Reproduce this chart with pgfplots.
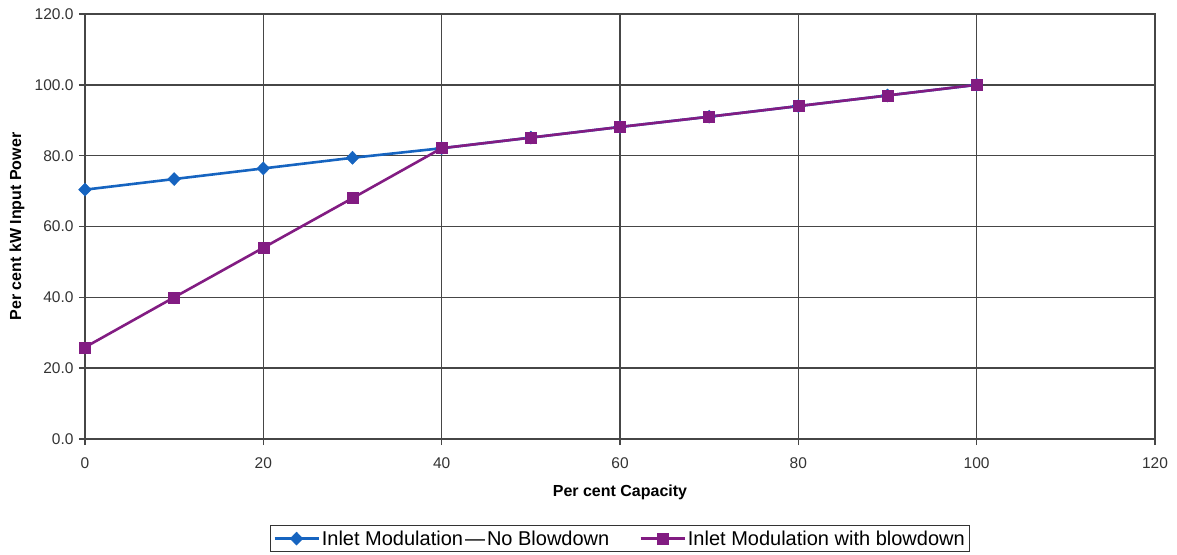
\documentclass[border=0pt]{standalone}
\usepackage{pgfplots}
\pgfplotsset{compat=1.18}
\usepackage{fontspec}
\setmainfont{Liberation Sans}
\definecolor{serblue}{RGB}{22,100,192}
\definecolor{serpurple}{RGB}{130,28,130}
\definecolor{gridc}{RGB}{70,70,70}
\begin{document}
\begin{tikzpicture}[x=1pt,y=1pt]
\begin{axis}[
  at={(0,0)}, anchor=south west,
  scale only axis, width=1070pt, height=425pt,
  xmin=0, xmax=120, ymin=0, ymax=120,
  xtick={0,20,...,120}, ytick={0,20,...,120},
  grid=major, grid style={gridc, line width=1.4pt},
  axis line style={gridc, line width=1.4pt},
  tick style={gridc, line width=1.4pt},
  tick align=outside, tick pos=left, major tick length=6pt,
  /pgf/number format/assume math mode=true,
  ticklabel style={font=\fontsize{15.5}{17}\selectfont, text=black!80},
  xticklabel style={/tikz/yshift=-9pt, /pgf/number format/fixed, /pgf/number format/precision=0},
  yticklabel style={/tikz/xshift=-2pt, /pgf/number format/fixed, /pgf/number format/fixed zerofill, /pgf/number format/precision=1},
  xlabel={\textbf{Per cent Capacity}},
  ylabel={\textbf{Per cent kW Input Power}},
  label style={font=\fontsize{16}{18}\selectfont},
  xlabel style={at={(axis description cs:0.5,-0.1247)}, anchor=center},
  ylabel style={at={(axis description cs:-0.0636,0.5)}, anchor=center},
  legend columns=2,
  legend style={at={(0.5,-0.2024)}, anchor=north, draw=black!80, line width=1.2pt,
    font=\fontsize{20}{23}\selectfont, inner sep=3pt,
    /tikz/every even column/.append style={column sep=28pt}},
  legend image code/.code={\draw[mark repeat=2,mark phase=2] plot coordinates {(0pt,0pt) (22pt,0pt) (44pt,0pt)};},
]
\addplot[serblue, line width=2.6pt, mark=diamond*, mark size=6.5pt, mark options={solid, line width=0.5pt, xscale=1.3}]
  coordinates {(0,70.4) (10,73.4) (20,76.4) (30,79.4) (40,82.1) (50,85.1) (60,88.1) (70,91.0) (80,94.0) (90,97.0) (100,100.0)};
\addlegendentry{Inlet Modulation\kern2pt---\kern2pt No Blowdown}
\addplot[serpurple, line width=2.6pt, mark=square*, mark size=5.5pt, mark options={solid, line width=0.5pt}]
  coordinates {(0,25.9) (10,40.0) (20,54.0) (30,68.0) (40,82.1) (50,85.1) (60,88.1) (70,91.0) (80,94.0) (90,97.0) (100,100.0)};
\addlegendentry{Inlet Modulation with blowdown}
\end{axis}
\pgfresetboundingbox
\path[use as bounding box] (-85,-115) rectangle (1092,439);
\end{tikzpicture}
\end{document}
